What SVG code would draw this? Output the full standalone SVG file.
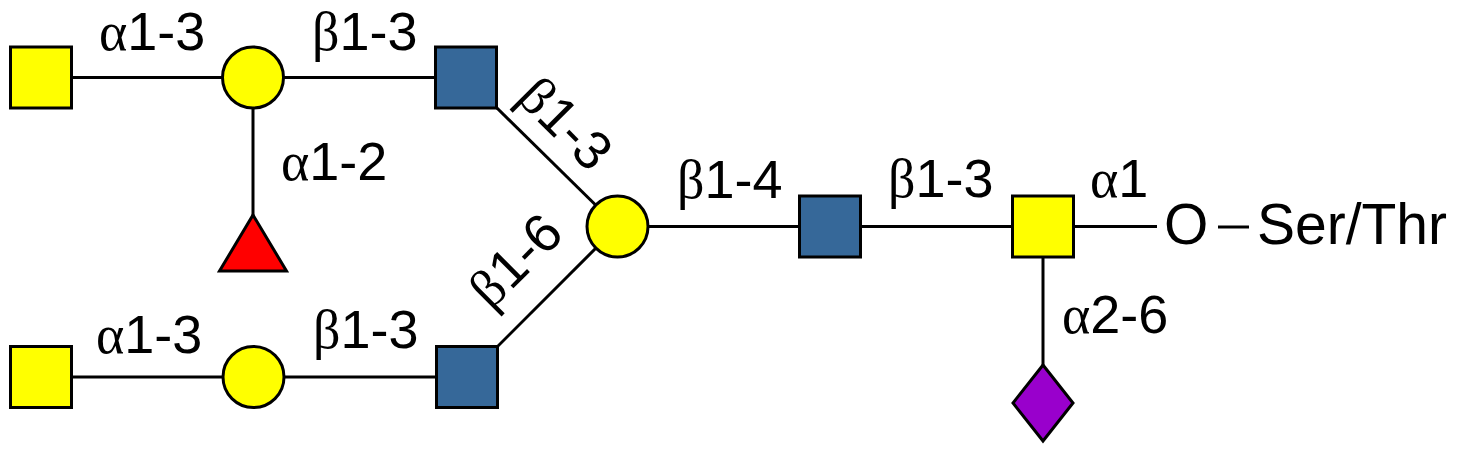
<svg xmlns="http://www.w3.org/2000/svg" width="1466" height="450" viewBox="0 0 1466 450">
<style>
.ln{stroke:#000;stroke-width:3;fill:none}
.gal{fill:#ffff00;stroke:#000;stroke-width:3}
.glcnac{fill:#366899;stroke:#000;stroke-width:3}
.fuc{fill:#ff0000;stroke:#000;stroke-width:3}
.neu{fill:#9900cc;stroke:#000;stroke-width:3}
.lbl{font-family:"Liberation Sans",Arial,sans-serif;font-size:54px;fill:#000}
.gr{font-family:"Liberation Serif","Times New Roman",serif}
.big{font-family:"Liberation Sans",Arial,sans-serif;font-size:57px;fill:#000}
</style>
<rect width="1466" height="450" fill="#fff"/>
<g id="connectors">
<line class="ln" x1="41" y1="77.5" x2="253" y2="77.5"/>
<line class="ln" x1="253" y1="77.5" x2="466" y2="77.5"/>
<line class="ln" x1="253" y1="77.5" x2="253" y2="240"/>
<line class="ln" x1="466" y1="77.5" x2="617.5" y2="226.5"/>
<line class="ln" x1="41" y1="377" x2="253" y2="377"/>
<line class="ln" x1="253" y1="377" x2="467" y2="377"/>
<line class="ln" x1="467" y1="377" x2="617.5" y2="226.5"/>
<line class="ln" x1="617.5" y1="226.5" x2="830" y2="226.5"/>
<line class="ln" x1="830" y1="226.5" x2="1043" y2="226.5"/>
<line class="ln" x1="1043" y1="226.5" x2="1157" y2="226.5"/>
<line class="ln" x1="1043" y1="226.5" x2="1043" y2="380"/>
<line class="ln" x1="1218" y1="227" x2="1249" y2="227"/>
</g>
<g id="n_galnac_top"><rect class="gal" x="10.5" y="47" width="61" height="61"/></g>
<g id="n_gal_top"><circle class="gal" cx="253" cy="77.5" r="30.5"/></g>
<g id="n_fuc"><polygon class="fuc" points="253,215 286.5,271 219.5,271"/></g>
<g id="n_glcnac_top"><rect class="glcnac" x="435.5" y="47" width="61" height="61"/></g>
<g id="n_galnac_bot"><rect class="gal" x="10.5" y="346.5" width="61" height="61"/></g>
<g id="n_gal_bot"><circle class="gal" cx="253.5" cy="377" r="30.5"/></g>
<g id="n_glcnac_bot"><rect class="glcnac" x="436.5" y="346.5" width="61" height="61"/></g>
<g id="n_gal_center"><circle class="gal" cx="617.5" cy="226.5" r="30.5"/></g>
<g id="n_glcnac_mid"><rect class="glcnac" x="799.5" y="196" width="61" height="61"/></g>
<g id="n_galnac_root"><rect class="gal" x="1012.5" y="196" width="61" height="61"/></g>
<g id="n_neuac"><polygon class="neu" points="1043,365 1073,403 1043,441 1013,403"/></g>
<g id="labels">
<text class="lbl" x="99" y="50"><tspan class="gr">α</tspan>1-3</text>
<text class="lbl" x="312" y="50"><tspan class="gr">β</tspan>1-3</text>
<text class="lbl" x="281" y="180"><tspan class="gr">α</tspan>1-2</text>
<text class="lbl" text-anchor="middle" transform="translate(566,123) rotate(45)" y="19"><tspan class="gr">β</tspan>1-3</text>
<text class="lbl" text-anchor="middle" transform="translate(515,260) rotate(-45)" y="19"><tspan class="gr">β</tspan>1-6</text>
<text class="lbl" x="96" y="353"><tspan class="gr">α</tspan>1-3</text>
<text class="lbl" x="313" y="348"><tspan class="gr">β</tspan>1-3</text>
<text class="lbl" x="677" y="198"><tspan class="gr">β</tspan>1-4</text>
<text class="lbl" x="888" y="197"><tspan class="gr">β</tspan>1-3</text>
<text class="lbl" x="1090" y="197"><tspan class="gr">α</tspan>1</text>
<text class="lbl" x="1062" y="333"><tspan class="gr">α</tspan>2-6</text>
<text class="big" x="1164" y="244">O</text>
<text class="big" x="1257" y="244">Ser/Thr</text>
</g>
</svg>
